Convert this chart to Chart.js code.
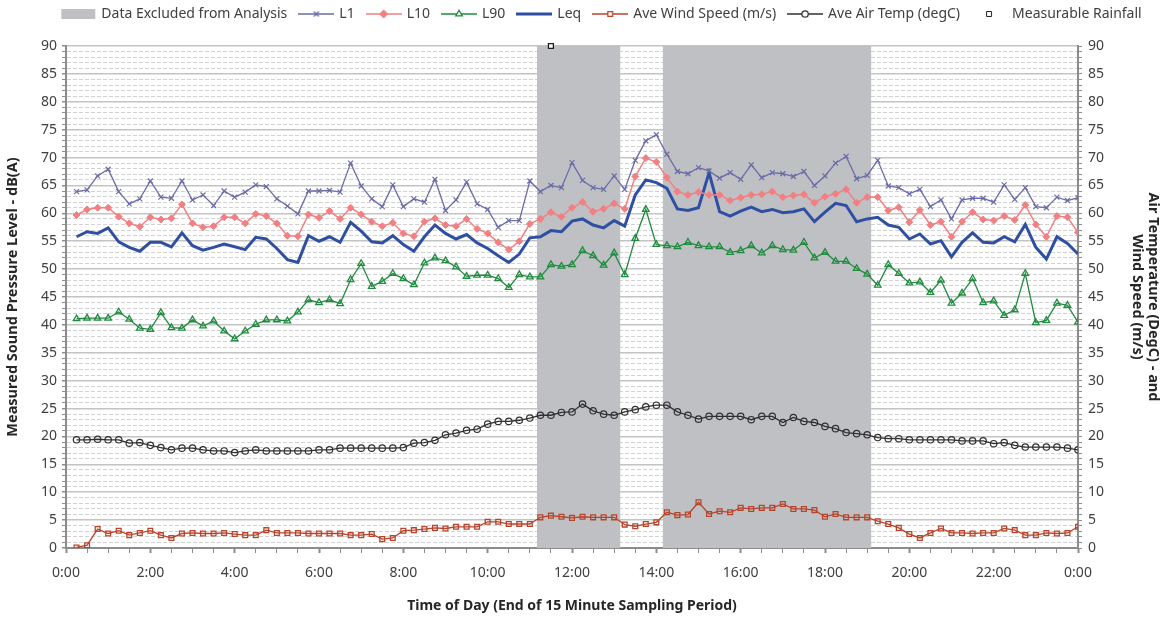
<!DOCTYPE html>
<html>
<head>
<meta charset="utf-8">
<script src="https://cdn.jsdelivr.net/npm/chart.js"></script>
<style>
  html, body { margin: 0; padding: 0; background: #fff; }
  #wrap { width: 1168px; height: 619px; }
</style>
</head>
<body>
<div id="wrap"><canvas id="chart" width="1168" height="619"></canvas></div>
<script>
// end of each 15 minute sampling period, in hours (0:15 ... 24:00)
const TIMES = Array.from({ length: 96 }, (_, i) => (i + 1) * 0.25);

const L1 = [
    63.9, 64.2, 66.7, 67.9, 63.9, 61.7, 62.6, 65.8, 62.9, 62.7, 65.8, 62.4,
    63.3, 61.4, 64.0, 62.9, 63.8, 65.1, 64.8, 62.6, 61.3, 59.9, 64.0, 64.0,
    64.1, 63.8, 69.0, 64.9, 62.6, 61.2, 65.1, 61.2, 62.6, 62.0, 66.1, 60.5,
    62.4, 65.6, 61.7, 60.7, 57.5, 58.7, 58.7, 65.8, 63.9, 65.0, 64.6, 69.1,
    65.9, 64.6, 64.3, 66.7, 64.3, 69.5, 73.0, 74.1, 70.6, 67.5, 67.1, 68.2,
    67.6, 66.3, 67.3, 66.1, 68.7, 66.4, 67.3, 67.1, 66.6, 67.5, 65.0, 66.7,
    69.0, 70.2, 66.2, 66.8, 69.5, 64.9, 64.6, 63.5, 64.3, 61.2, 62.4, 59.0,
    62.4, 62.7, 62.7, 62.0, 65.1, 62.5, 64.6, 61.2, 61.0, 62.9, 62.3, 62.8
];
const L10 = [
    59.7, 60.7, 61.0, 61.0, 59.4, 58.2, 57.6, 59.3, 58.9, 59.1, 61.6, 58.2,
    57.5, 57.7, 59.3, 59.3, 58.2, 59.9, 59.5, 58.2, 56.0, 55.9, 59.8, 59.2,
    60.4, 59.0, 61.0, 59.8, 58.5, 57.7, 58.3, 56.4, 55.9, 58.5, 59.1, 57.9,
    57.7, 59.0, 57.2, 56.4, 54.8, 53.5, 55.0, 58.1, 59.0, 60.2, 59.4, 61.0,
    62.0, 60.3, 60.8, 61.8, 60.8, 66.6, 69.9, 69.2, 66.4, 63.9, 63.3, 63.8,
    63.3, 63.3, 62.3, 62.8, 63.3, 63.4, 63.9, 62.9, 63.2, 63.4, 61.9, 63.0,
    63.5, 64.3, 61.9, 62.9, 62.9, 60.5, 61.1, 58.4, 60.6, 57.9, 58.5, 55.8,
    58.5, 60.2, 58.9, 58.7, 59.5, 58.8, 61.5, 58.0, 55.8, 59.5, 59.3, 56.6
];
const L90 = [
    41.1, 41.2, 41.2, 41.2, 42.3, 41.0, 39.4, 39.2, 42.2, 39.5, 39.4, 40.9,
    39.8, 40.7, 38.9, 37.5, 38.9, 40.1, 40.9, 40.9, 40.7, 42.3, 44.5, 44.0,
    44.5, 43.8, 48.1, 51.0, 46.9, 47.8, 49.2, 48.3, 47.2, 51.1, 52.0, 51.5,
    50.4, 48.7, 48.9, 48.9, 48.3, 46.7, 49.0, 48.6, 48.6, 50.8, 50.5, 50.8,
    53.3, 52.4, 50.7, 52.9, 49.0, 55.5, 60.7, 54.4, 54.2, 54.0, 54.8, 54.2,
    54.0, 54.0, 53.0, 53.3, 54.2, 52.9, 54.2, 53.5, 53.4, 54.8, 52.0, 53.0,
    51.4, 51.4, 50.1, 49.1, 47.1, 50.8, 49.2, 47.5, 47.7, 45.8, 48.0, 43.9,
    45.7, 48.3, 44.0, 44.3, 41.7, 42.7, 49.2, 40.4, 40.8, 43.9, 43.5, 40.5
];
const LEQ = [
    55.8, 56.7, 56.4, 57.4, 54.9, 53.9, 53.2, 54.8, 54.8, 54.0, 56.5, 54.2,
    53.4, 53.9, 54.5, 54.0, 53.5, 55.7, 55.4, 53.7, 51.7, 51.2, 56.0, 55.0,
    55.8, 54.8, 58.4, 56.8, 54.9, 54.7, 56.0, 54.4, 53.2, 55.8, 57.9, 56.4,
    55.4, 56.2, 54.7, 53.7, 52.4, 51.2, 52.7, 55.6, 55.8, 56.9, 56.7, 58.6,
    59.0, 57.9, 57.4, 58.7, 57.7, 63.3, 66.0, 65.5, 64.5, 60.8, 60.5, 61.0,
    67.3, 60.3, 59.5, 60.4, 61.1, 60.3, 60.7, 60.1, 60.3, 60.8, 58.5, 60.2,
    61.8, 61.4, 58.5, 59.0, 59.3, 57.9, 57.5, 55.4, 56.3, 54.5, 55.1, 52.2,
    54.8, 56.5, 54.8, 54.7, 55.8, 54.9, 58.0, 53.9, 51.8, 55.8, 54.6, 52.7
];
const WIND_SPEED = [
    0.1, 0.5, 3.4, 2.6, 3.1, 2.3, 2.7, 3.1, 2.3, 1.8, 2.6, 2.7,
    2.6, 2.6, 2.7, 2.5, 2.3, 2.3, 3.2, 2.7, 2.7, 2.7, 2.6, 2.6,
    2.6, 2.6, 2.3, 2.3, 2.5, 1.6, 1.8, 3.1, 3.2, 3.4, 3.6, 3.5,
    3.8, 3.8, 3.8, 4.7, 4.7, 4.3, 4.3, 4.3, 5.5, 5.8, 5.6, 5.4,
    5.6, 5.5, 5.5, 5.5, 4.2, 3.9, 4.3, 4.6, 6.4, 5.9, 6.0, 8.2,
    6.1, 6.6, 6.4, 7.2, 7.0, 7.2, 7.2, 7.9, 7.0, 7.0, 6.8, 5.6,
    6.1, 5.5, 5.5, 5.5, 4.8, 4.3, 3.6, 2.5, 1.8, 2.7, 3.5, 2.7,
    2.7, 2.6, 2.7, 2.7, 3.5, 3.2, 2.3, 2.3, 2.7, 2.6, 2.7, 3.8
];
const AIR_TEMP = [
    19.4, 19.4, 19.5, 19.4, 19.4, 18.8, 18.9, 18.4, 18.0, 17.6, 17.9, 17.9,
    17.6, 17.4, 17.4, 17.1, 17.4, 17.6, 17.4, 17.4, 17.4, 17.4, 17.4, 17.6,
    17.6, 17.9, 17.9, 17.9, 17.9, 17.9, 17.9, 18.0, 18.8, 18.9, 19.3, 20.3,
    20.6, 21.1, 21.3, 22.2, 22.7, 22.7, 22.9, 23.3, 23.8, 23.8, 24.3, 24.4,
    25.8, 24.6, 24.0, 23.8, 24.4, 24.8, 25.3, 25.6, 25.6, 24.4, 23.8, 23.1,
    23.6, 23.6, 23.6, 23.6, 23.0, 23.6, 23.6, 22.5, 23.4, 22.7, 22.5, 21.8,
    21.4, 20.7, 20.5, 20.3, 19.8, 19.6, 19.6, 19.4, 19.4, 19.4, 19.4, 19.4,
    19.2, 19.2, 19.2, 18.7, 18.9, 18.4, 18.1, 18.1, 18.1, 18.1, 17.9, 17.6
];
const RAIN_TIMES = [11.5];
const RAIN_VALUES = [90];

// periods shaded as excluded (hours)
const EXCLUDED_START = [11.17, 14.15];
const EXCLUDED_END = [13.15, 19.1];
const EXCLUDED_TOP = 90;

const FONT = "'Noto Sans', sans-serif";
const TEXT = '#404040';
const TITLE = '#262626';
const AXIS = '#8c8c8c';

const COLORS = {
    band: '#bfc0c4',
    l1: '#6b6ba8',
    l10: '#f27f82',
    l90: '#1f8b3f',
    leq: '#2f4fa2',
    wind: '#b8442b',
    temp: '#303030',
    rain: '#202020'
};

function toPoints(values) {
    return values.map((y, i) => ({ x: TIMES[i], y }));
}

function bandPoints() {
    const pts = [];
    EXCLUDED_START.forEach((start, k) => {
        if (k > 0) pts.push({ x: start, y: null });
        pts.push({ x: start, y: EXCLUDED_TOP });
        pts.push({ x: EXCLUDED_END[k], y: EXCLUDED_TOP });
    });
    return pts;
}

const datasets = [
    {
        label: 'L1', data: toPoints(L1), yAxisID: 'y',
        borderColor: COLORS.l1, backgroundColor: COLORS.l1, borderWidth: 1.3,
        pointStyle: 'crossRot', pointRadius: 3.5, pointBorderWidth: 1.2
    },
    {
        label: 'L10', data: toPoints(L10), yAxisID: 'y',
        borderColor: COLORS.l10, backgroundColor: COLORS.l10, borderWidth: 1.5,
        pointStyle: 'rectRot', pointRadius: 3.5, pointBorderWidth: 1
    },
    {
        label: 'L90', data: toPoints(L90), yAxisID: 'y',
        borderColor: COLORS.l90, backgroundColor: 'rgba(0,0,0,0)', borderWidth: 1.3,
        pointStyle: 'triangle', pointRadius: 3.8, pointBorderWidth: 1.3
    },
    {
        label: 'Leq', data: toPoints(LEQ), yAxisID: 'y',
        borderColor: COLORS.leq, backgroundColor: COLORS.leq, borderWidth: 3,
        pointRadius: 0
    },
    {
        label: 'Ave Wind Speed (m/s)', data: toPoints(WIND_SPEED), yAxisID: 'y2',
        borderColor: COLORS.wind, backgroundColor: 'rgba(0,0,0,0)', borderWidth: 1.3,
        pointStyle: 'rect', pointRadius: 3.4, pointBorderWidth: 1.3
    },
    {
        label: 'Ave Air Temp (degC)', data: toPoints(AIR_TEMP), yAxisID: 'y2',
        borderColor: COLORS.temp, backgroundColor: 'rgba(0,0,0,0)', borderWidth: 1.3,
        pointStyle: 'circle', pointRadius: 3.2, pointBorderWidth: 1.2
    },
    {
        label: 'Measurable Rainfall', yAxisID: 'y2',
        data: RAIN_VALUES.map((y, i) => ({ x: RAIN_TIMES[i], y })),
        showLine: false, clip: false, borderColor: COLORS.rain, backgroundColor: '#ffffff',
        pointStyle: 'rect', pointRadius: 3.5, pointBorderWidth: 1.3
    },
    {
        label: 'Data Excluded from Analysis', data: bandPoints(), yAxisID: 'y',
        borderWidth: 0, borderColor: 'rgba(0,0,0,0)', backgroundColor: COLORS.band,
        pointRadius: 0, fill: 'origin', spanGaps: false
    }
];

// small line + marker pictures for the legend
function legendIcon(ds) {
    const c = document.createElement('canvas');
    c.width = 36;
    c.height = 12;
    const g = c.getContext('2d');
    if (ds.fill) {
        g.fillStyle = ds.backgroundColor;
        g.fillRect(1, 1, 34, 10);
        return c;
    }
    if (ds.showLine !== false) {
        g.strokeStyle = ds.borderColor;
        g.lineWidth = ds.borderWidth;
        g.beginPath();
        g.moveTo(0, 6);
        g.lineTo(36, 6);
        g.stroke();
    }
    if (ds.pointRadius) {
        g.strokeStyle = ds.borderColor;
        g.fillStyle = ds.backgroundColor === 'rgba(0,0,0,0)' ? '#ffffff' : ds.backgroundColor;
        Chart.helpers.drawPoint(g, {
            pointStyle: ds.pointStyle, radius: ds.pointRadius,
            rotation: 0, borderWidth: ds.pointBorderWidth
        }, 18, 6);
    }
    return c;
}

const LEGEND_ORDER = [7, 0, 1, 2, 3, 4, 5, 6];
const LEGEND_GAP = 15;   // extra room between legend and plot

// legend is given some extra height below its row
const legendGap = {
    id: 'legendGap',
    afterInit(chart) {
        const fit = chart.legend.fit;
        chart.legend.fit = function () {
            fit.call(this);
            this.height += LEGEND_GAP;
        };
    }
};

const PAD_LEFT = 36;
const majorOf5 = c => c.tick && c.tick.value % 5 === 0;

new Chart(document.getElementById('chart'), {
    type: 'line',
    data: { datasets },
    plugins: [legendGap],
    options: {
        responsive: false,
        animation: false,
        events: [],
        elements: { line: { tension: 0 } },
        layout: { padding: { top: -6, left: PAD_LEFT, right: 0, bottom: 0 } },
        plugins: {
            tooltip: { enabled: false },
            legend: {
                position: 'top',
                labels: {
                    usePointStyle: true,
                    pointStyleWidth: 32,
                    boxHeight: 12,
                    padding: 13,
                    color: TEXT,
                    font: { family: FONT, size: 14 },
                    generateLabels: chart => LEGEND_ORDER.map(i => {
                        const ds = chart.data.datasets[i];
                        return {
                            text: ds.label,
                            pointStyle: legendIcon(ds),
                            fillStyle: ds.backgroundColor,
                            strokeStyle: ds.borderColor,
                            lineWidth: 0,
                            fontColor: TEXT,
                            hidden: false,
                            datasetIndex: i
                        };
                    })
                }
            }
        },
        scales: {
            x: {
                type: 'linear',
                min: 0,
                max: 24,
                ticks: {
                    stepSize: 0.5,
                    autoSkip: false,
                    maxRotation: 0,
                    color: TEXT,
                    font: { family: FONT, size: 14 },
                    padding: 12,
                    callback: v => (v % 2 === 0 ? (v % 24) + ':00' : '')
                },
                grid: {
                    drawOnChartArea: false,
                    tickLength: 5,
                    tickColor: AXIS,
                    tickWidth: c => (c.tick && c.tick.value % 2 === 0 ? 2 : 1)
                },
                border: { color: AXIS, width: 2 },
                title: {
                    display: true,
                    text: 'Time of Day (End of 15 Minute Sampling Period)',
                    color: TITLE,
                    font: { family: FONT, size: 14, weight: 'bold' },
                    padding: { top: 0, bottom: 5 }
                },
                afterFit: s => { s.height = 71; }
            },
            y: {
                position: 'left',
                min: 0,
                max: 90,
                ticks: {
                    stepSize: 1,
                    autoSkip: false,
                    color: TEXT,
                    font: { family: FONT, size: 14 },
                    padding: 5,
                    callback: v => (v % 5 === 0 ? v : '')
                },
                grid: {
                    color: c => (majorOf5(c) ? '#c4c4c4' : '#d2d2d2'),
                    lineWidth: c => (majorOf5(c) ? 1.5 : 1),
                    tickLength: 4,
                    tickColor: AXIS
                },
                border: {
                    color: AXIS,
                    width: 2,
                    dash: c => (c.tick && c.tick.value % 5 !== 0 ? [4, 2] : [])
                },
                title: {
                    display: true,
                    text: 'Measured Sound Pressure Level - dB(A)',
                    color: TITLE,
                    font: { family: FONT, size: 14.5, weight: 'bold', lineHeight: 1.1 },
                    padding: { top: 5 - PAD_LEFT, bottom: 0 }
                },
                afterFit: s => { s.width = 66 - PAD_LEFT; }
            },
            y2: {
                position: 'right',
                min: 0,
                max: 90,
                ticks: {
                    stepSize: 1,
                    autoSkip: false,
                    color: TEXT,
                    font: { family: FONT, size: 14 },
                    padding: 6,
                    callback: v => (v % 5 === 0 ? v : '')
                },
                grid: {
                    drawOnChartArea: false,
                    tickLength: 4,
                    tickColor: AXIS
                },
                border: { color: AXIS, width: 2 },
                title: {
                    display: true,
                    text: ['Air Temperature (DegC) - and', 'Wind Speed (m/s)'],
                    color: TITLE,
                    font: { family: FONT, size: 14.5, weight: 'bold', lineHeight: 1.1 },
                    padding: { top: 7, bottom: 0 }
                },
                afterFit: s => { s.width = 90; }
            }
        }
    }
});
</script>
</body>
</html>
